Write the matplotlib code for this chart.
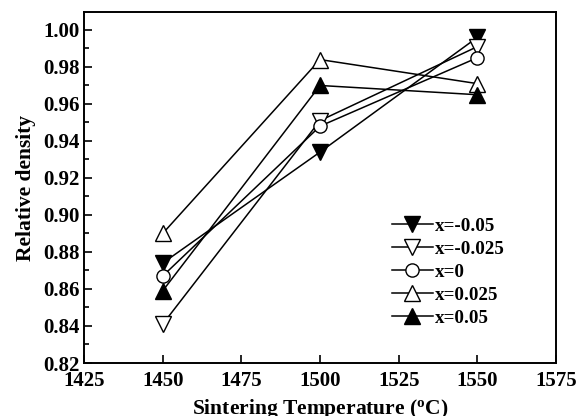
#! /usr/bin/env python3

'''
Relative density against sintering temperature for five compositions.
'''

import matplotlib
matplotlib.use('Agg')
import matplotlib.pyplot as plt
from matplotlib.ticker import MultipleLocator


temperature = [1450, 1500, 1550]
labels = ['x=-0.05', 'x=-0.025', 'x=0', 'x=0.025', 'x=0.05']
density_m005 = [0.874, 0.934, 0.996]
density_m0025 = [0.841, 0.951, 0.991]
density_0 = [0.867, 0.948, 0.985]
density_p0025 = [0.890, 0.984, 0.971]
density_p005 = [0.859, 0.970, 0.965]


def main():
    plt.rcParams['font.family'] = ['Liberation Serif', 'DejaVu Serif']
    plt.rcParams['font.weight'] = 'bold'
    fig = plt.figure(figsize=(5.81, 4.16), dpi=100)
    ax = fig.add_axes([0.1446, 0.1274, 0.8124, 0.8437])

    series = [
        (density_m005, 'v', 'black', 11),
        (density_m0025, 'v', 'white', 11),
        (density_0, 'o', 'white', 9.5),
        (density_p0025, '^', 'white', 11),
        (density_p005, '^', 'black', 11),
    ]
    for (values, marker, face, size), label in zip(series, labels):
        ax.plot(temperature, values, color='black', linewidth=1.1,
                marker=marker, markersize=size, markerfacecolor=face,
                markeredgecolor='black', markeredgewidth=1.0, label=label)

    ax.set_xlim(1425, 1575)
    ax.set_ylim(0.82, 1.0097)
    ax.xaxis.set_major_locator(MultipleLocator(25))
    ax.yaxis.set_major_locator(MultipleLocator(0.02))
    ax.yaxis.set_minor_locator(MultipleLocator(0.01))
    ax.yaxis.set_major_formatter(plt.FuncFormatter(lambda v, p: f'{v:.2f}'))
    ax.tick_params(which='both', direction='in', labelsize=15,
                   width=1.2, top=False, right=False)
    ax.tick_params(which='major', length=6)
    ax.tick_params(which='minor', length=3.5)
    ax.tick_params(axis='x', pad=6)
    ax.tick_params(axis='y', pad=3)
    for spine in ax.spines.values():
        spine.set_linewidth(1.4)

    ax.set_xlabel('Sintering Temperature ($\\mathregular{^o}$C)',
                  fontsize=15.5, fontweight='bold')
    ax.xaxis.set_label_coords(0.5, -0.097)
    ax.set_ylabel('Relative density', fontsize=15.5, fontweight='bold',
                  labelpad=5)

    ax.legend(loc='center left', bbox_to_anchor=(0.6525, 0.259),
              frameon=False, handlelength=2.15,
              handletextpad=0.1, labelspacing=0.3, borderpad=0,
              borderaxespad=0,
              prop={'weight': 'bold', 'size': 13.7})

    fig.savefig('out.png', dpi=100)


if __name__ == '__main__':
    main()
